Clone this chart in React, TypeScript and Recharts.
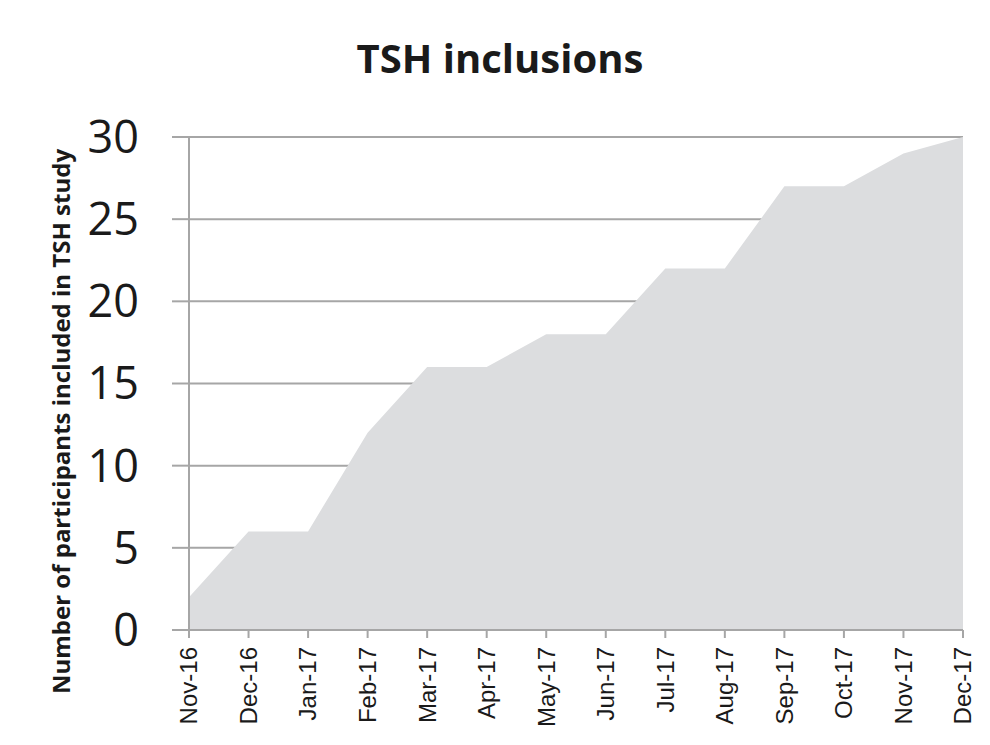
import React from "react";
import {
  Area,
  AreaChart,
  CartesianGrid,
  XAxis,
  YAxis,
} from "recharts";

const months = [
  "Nov-16", "Dec-16", "Jan-17", "Feb-17", "Mar-17", "Apr-17", "May-17",
  "Jun-17", "Jul-17", "Aug-17", "Sep-17", "Oct-17", "Nov-17", "Dec-17",
];
const inclusions = [2, 6, 6, 12, 16, 16, 18, 18, 22, 22, 27, 27, 29, 30];
const yTicks = [0, 5, 10, 15, 20, 25, 30];

const data = months.map((month, i) => ({ month, inclusions: inclusions[i] }));

const MonthTick = (props: any) => {
  const { x, y, payload } = props;
  return (
    <text
      x={x}
      y={y + 7}
      dy="0.35em"
      transform={`rotate(-90, ${x}, ${y + 7})`}
      textAnchor="end"
      fontFamily="'Liberation Sans', Arial, sans-serif"
      fontSize={24}
      fill="#1a1a1a"
    >
      {payload.value}
    </text>
  );
};

export default function App() {
  return (
    <div style={{ position: "absolute", left: 0, top: 0, width: 990, height: 745, background: "#fff" }}>
      <div
        style={{
          position: "absolute",
          top: 30,
          left: 0,
          width: 1000,
          textAlign: "center",
          fontFamily: "'Open Sans', sans-serif",
          fontWeight: 700,
          fontSize: 40,
          color: "#1a1a1a",
        }}
      >
        TSH inclusions
      </div>
      <AreaChart
        width={990}
        height={745}
        data={data}
        margin={{ top: 137, right: 27, bottom: 15, left: 0 }}
      >
        <CartesianGrid vertical={false} stroke="#a6a6a6" strokeWidth={2} />
        <XAxis
          dataKey="month"
          height={100}
          interval={0}
          stroke="#a6a6a6"
          strokeWidth={2}
          tickSize={8}
          tick={<MonthTick />}
        />
        <YAxis
          width={189}
          domain={[0, 30]}
          ticks={yTicks}
          interval={0}
          stroke="#a6a6a6"
          strokeWidth={2}
          tickSize={17}
          tickMargin={33}
          tick={{
            fontFamily: "'Open Sans', sans-serif",
            fontSize: 45,
            fill: "#1a1a1a",
          }}
          label={{
            value: "Number of participants included in TSH study",
            angle: -90,
            position: "center",
            dx: -33,
            dy: 38,
            style: {
              fontFamily: "'Open Sans', sans-serif",
              fontWeight: 700,
              fontSize: 24,
              fill: "#1a1a1a",
            },
          }}
        />
        <Area
          type="linear"
          dataKey="inclusions"
          stroke="none"
          fill="#dcdddf"
          fillOpacity={1}
          isAnimationActive={false}
        />
      </AreaChart>
    </div>
  );
}
